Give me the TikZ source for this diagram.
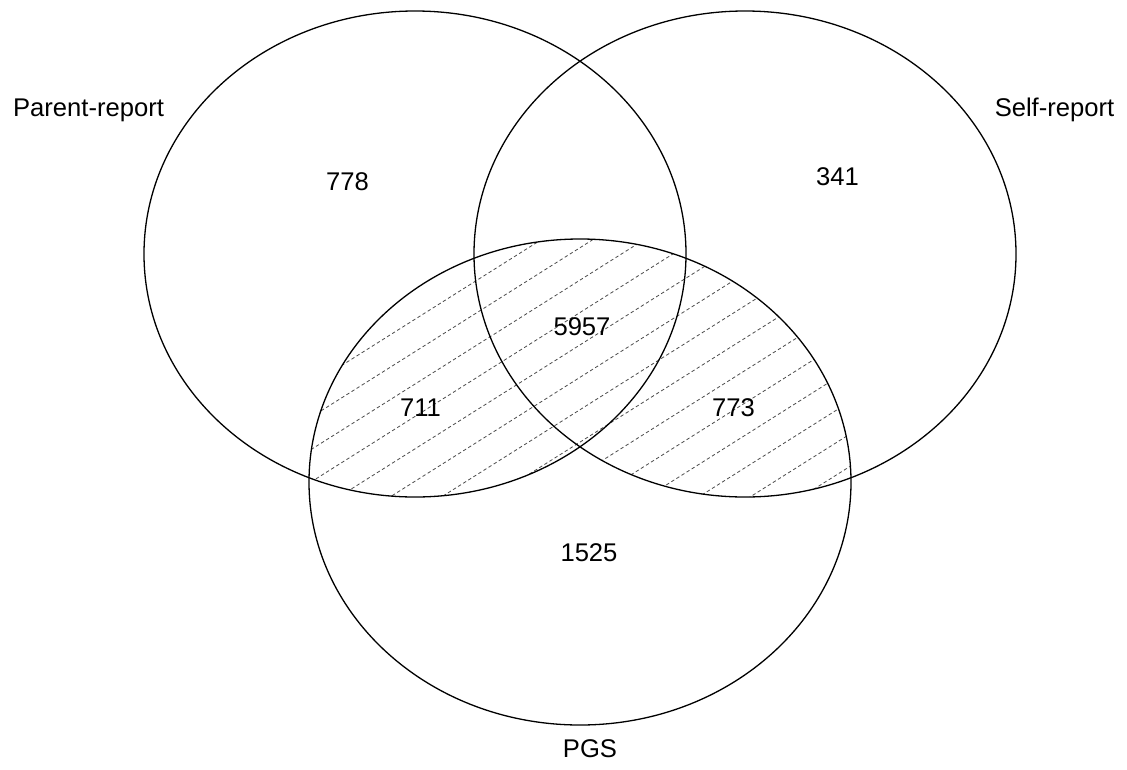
\documentclass[tikz,border=0pt]{standalone}
\usepackage{fontspec}
\setmainfont{Liberation Sans}
\begin{document}
\begin{tikzpicture}[x=1pt,y=-1pt,
  setline/.style={line width=1.3pt, black},
  hatchline/.style={line width=0.8pt, black!70, dash pattern=on 3.4pt off 2.6pt},
  lbl/.style={font=\fontsize{25.6}{30}\selectfont, anchor=base, inner sep=0pt}]
\useasboundingbox (0,0) rectangle (1127,769);
\fill[white] (0,0) rectangle (1127,769);

% set centres and radii
\def\rx{271pt}
\def\ry{243pt}
\coordinate (cP) at (415,254);
\coordinate (cS) at (745,254);
\coordinate (cG) at (580,482);

% hatching over PGS within either report set
\begin{scope}
  \clip (cG) ellipse [x radius=\rx, y radius=\ry];
  \clip (cP) ellipse [x radius=\rx, y radius=\ry]
        (cS) ellipse [x radius=\rx, y radius=\ry];
  \foreach \k in {-7,...,10} {
    \pgfmathsetmacro{\c}{742.7+32.4*\k}
    \draw[hatchline] (250,{\c-0.63*250}) -- (900,{\c-0.63*900});
  }
\end{scope}

% the three sets
\draw[setline] (cP) ellipse [x radius=\rx, y radius=\ry];
\draw[setline] (cS) ellipse [x radius=\rx, y radius=\ry];
\draw[setline] (cG) ellipse [x radius=\rx, y radius=\ry];

% set names
\node[lbl] (nP) at (88.5,116.5) {Parent-report};
\node[lbl] (nS) at (1054.5,116) {Self-report};
\node[lbl] (nG) at (590,757) {PGS};

% region counts
\node[lbl] (vP)  at (347.5,190.5) {778};
\node[lbl] (vS)  at (837.5,185.5) {341};
\node[lbl] (vPSG) at (582,335.5) {5957};
\node[lbl] (vPG) at (420.5,416) {711};
\node[lbl] (vSG) at (733.5,416) {773};
\node[lbl] (vG)  at (589,561) {1525};
\end{tikzpicture}
\end{document}
